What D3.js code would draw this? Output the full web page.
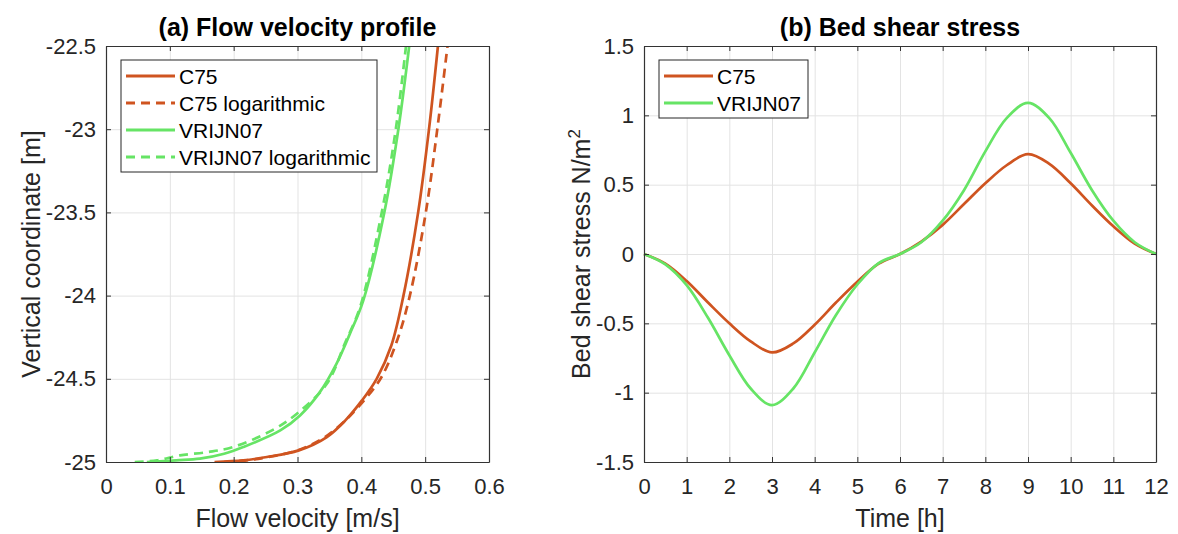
<!DOCTYPE html>
<html>
<head>
<meta charset="utf-8">
<script src="https://cdn.jsdelivr.net/npm/d3@7"></script>
<style>
  body { margin: 0; background: #fff; }
  svg { font-family: "Liberation Sans", Arial, sans-serif; }
</style>
</head>
<body>
<svg width="1178" height="534"></svg>
<script>
const width = 1178;
const height = 534;

const svg = d3.select('svg');

// (a) flow velocity profile: vertical coordinate [m] vs velocity [m/s]
const c75Z    = [-25.00, -24.99, -24.97, -24.93, -24.85, -24.75, -24.63, -24.50, -24.30, -24.00, -23.50, -23.00, -22.50];
const c75U    = [0.170, 0.215, 0.252, 0.302, 0.346, 0.375, 0.401, 0.424, 0.447, 0.466, 0.489, 0.506, 0.520];
const c75LogZ = [-25.00, -24.99, -24.97, -24.93, -24.85, -24.75, -24.67, -24.50, -24.27, -24.00, -23.50, -23.00, -22.50];
const c75LogU = [0.185, 0.220, 0.255, 0.300, 0.343, 0.375, 0.395, 0.430, 0.456, 0.476, 0.501, 0.519, 0.535];
const vrijnZ    = [-25.00, -24.99, -24.98, -24.95, -24.91, -24.81, -24.72, -24.58, -24.41, -24.23, -24.03, -23.50, -23.00, -22.50];
const vrijnU    = [0.064, 0.110, 0.147, 0.185, 0.215, 0.273, 0.304, 0.335, 0.361, 0.382, 0.403, 0.436, 0.458, 0.475];
const vrijnLogZ = [-25.00, -24.99, -24.96, -24.94, -24.91, -24.81, -24.71, -24.53, -24.28, -24.07, -23.50, -23.00, -22.50];
const vrijnLogU = [0.045, 0.080, 0.116, 0.160, 0.199, 0.260, 0.299, 0.346, 0.375, 0.398, 0.432, 0.454, 0.470];

// (b) bed shear stress [N/m2] over time [h]
const timeH    = [0, 0.5, 1, 1.5, 2, 2.5, 3, 3.5, 4, 4.5, 5, 5.5, 6, 6.5, 7, 7.5, 8, 8.5, 9, 9.5, 10, 10.5, 11, 11.5, 12];
const c75Tau   = [0, -0.07, -0.195, -0.35, -0.50, -0.63, -0.71, -0.645, -0.51, -0.35, -0.20, -0.07, 0, 0.09, 0.21, 0.36, 0.51, 0.64, 0.72, 0.65, 0.51, 0.35, 0.20, 0.075, 0];
const vrijnTau = [0, -0.075, -0.225, -0.46, -0.73, -0.97, -1.09, -0.97, -0.71, -0.44, -0.22, -0.065, 0, 0.085, 0.24, 0.46, 0.74, 0.98, 1.09, 0.98, 0.73, 0.46, 0.24, 0.085, 0];

const xTicksA = [0, 0.1, 0.2, 0.3, 0.4, 0.5, 0.6];
const yTicksA = [-25, -24.5, -24, -23.5, -23, -22.5];
const xTicksB = [0, 1, 2, 3, 4, 5, 6, 7, 8, 9, 10, 11, 12];
const yTicksB = [-1.5, -1, -0.5, 0, 0.5, 1, 1.5];

const red = '#cf5420';
const green = '#66e465';
const axisColor = '#333';
const fmt = d => String(+d.toFixed(2));

const drawGrid = (g, xScale, yScale, xTicks, yTicks, w, h) => {
    g.append('g').attr('transform', 'translate(0,' + h + ')')
        .call(d3.axisBottom(xScale).tickValues(xTicks).tickSize(-h).tickFormat(''))
        .call(a => a.select('.domain').remove())
        .selectAll('line').attr('stroke', '#e3e3e3');
    g.append('g')
        .call(d3.axisLeft(yScale).tickValues(yTicks).tickSize(-w).tickFormat(''))
        .call(a => a.select('.domain').remove())
        .selectAll('line').attr('stroke', '#e3e3e3');
};

const drawAxes = (g, xScale, yScale, xTicks, yTicks, w, h) => {
    const style = a => {
        a.select('.domain').attr('stroke', axisColor).attr('stroke-width', 1.2);
        a.selectAll('.tick line').attr('stroke', axisColor);
        a.selectAll('.tick text').attr('fill', '#262626').attr('font-size', 22).attr('font-family', null);
    };
    g.append('g').attr('transform', 'translate(0,' + h + ')')
        .call(d3.axisBottom(xScale).tickValues(xTicks).tickSize(-5).tickSizeOuter(0).tickPadding(16).tickFormat(fmt))
        .call(style);
    g.append('g')
        .call(d3.axisTop(xScale).tickValues(xTicks).tickSize(-5).tickSizeOuter(0).tickFormat(''))
        .call(style);
    g.append('g')
        .call(d3.axisLeft(yScale).tickValues(yTicks).tickSize(-5).tickSizeOuter(0).tickPadding(10).tickFormat(fmt))
        .call(style);
    g.append('g').attr('transform', 'translate(' + w + ',0)')
        .call(d3.axisRight(yScale).tickValues(yTicks).tickSize(-5).tickSizeOuter(0).tickFormat(''))
        .call(style);
};

const drawLegend = (g, x, y, entries, boxW) => {
    const rowH = 27;
    const lg = g.append('g').attr('transform', 'translate(' + x + ',' + y + ')');
    lg.append('rect')
        .attr('width', boxW)
        .attr('height', entries.length * rowH + 4)
        .attr('fill', '#fff')
        .attr('stroke', '#262626')
        .attr('stroke-width', 1);
    entries.forEach((e, i) => {
        const cy = 16 + i * rowH;
        lg.append('line')
            .attr('x1', 5).attr('x2', 54)
            .attr('y1', cy).attr('y2', cy)
            .attr('stroke', e.color)
            .attr('stroke-width', 3)
            .attr('stroke-dasharray', e.dash ? '9,6' : null);
        lg.append('text')
            .text(e.name)
            .attr('x', 58)
            .attr('y', cy)
            .attr('dy', '0.36em')
            .attr('font-size', 21)
            .attr('fill', '#000');
    });
};

// ---------- panel (a) ----------
const renderA = () => {
    const left = 106, top = 46, w = 383, h = 416;
    const g = svg.append('g').attr('transform', 'translate(' + left + ',' + top + ')');

    const xScale = d3.scaleLinear().domain([0, 0.6]).range([0, w]);
    const yScale = d3.scaleLinear().domain([-25, -22.5]).range([h, 0]);

    drawGrid(g, xScale, yScale, xTicksA, yTicksA, w, h);

    g.append('clipPath').attr('id', 'clipA')
        .append('rect').attr('width', w).attr('height', h);

    const line = d3.line()
        .x(d => xScale(d[0]))
        .y(d => yScale(d[1]))
        .curve(d3.curveCatmullRom.alpha(0.5));

    const series = [
        { u: c75U, z: c75Z, color: red, dash: false },
        { u: c75LogU, z: c75LogZ, color: red, dash: true },
        { u: vrijnU, z: vrijnZ, color: green, dash: false },
        { u: vrijnLogU, z: vrijnLogZ, color: green, dash: true }
    ];
    series.forEach(s => {
        g.append('path')
            .datum(s.u.map((u, i) => [u, s.z[i]]))
            .attr('d', line)
            .attr('fill', 'none')
            .attr('stroke', s.color)
            .attr('stroke-width', 2.7)
            .attr('stroke-dasharray', s.dash ? '9,6' : null)
            .attr('clip-path', 'url(#clipA)');
    });

    drawAxes(g, xScale, yScale, xTicksA, yTicksA, w, h);

    g.append('text')
        .text('(a) Flow velocity profile')
        .attr('x', w / 2).attr('y', -10)
        .attr('text-anchor', 'middle')
        .attr('font-size', 25)
        .attr('font-weight', 'bold')
        .attr('fill', '#000');

    g.append('text')
        .text('Flow velocity [m/s]')
        .attr('x', w / 2).attr('y', h + 65)
        .attr('text-anchor', 'middle')
        .attr('font-size', 25)
        .attr('fill', '#262626');

    g.append('text')
        .text('Vertical coordinate [m]')
        .attr('transform', 'translate(-66,' + (h / 2) + ') rotate(-90)')
        .attr('text-anchor', 'middle')
        .attr('font-size', 25)
        .attr('fill', '#262626');

    drawLegend(g, 15, 14, [
        { name: 'C75', color: red, dash: false },
        { name: 'C75 logarithmic', color: red, dash: true },
        { name: 'VRIJN07', color: green, dash: false },
        { name: 'VRIJN07 logarithmic', color: green, dash: true }
    ], 256);
};

// ---------- panel (b) ----------
const renderB = () => {
    const left = 644, top = 46, w = 512, h = 416;
    const g = svg.append('g').attr('transform', 'translate(' + left + ',' + top + ')');

    const xScale = d3.scaleLinear().domain([0, 12]).range([0, w]);
    const yScale = d3.scaleLinear().domain([-1.5, 1.5]).range([h, 0]);

    drawGrid(g, xScale, yScale, xTicksB, yTicksB, w, h);

    const line = d3.line()
        .x(d => xScale(d[0]))
        .y(d => yScale(d[1]))
        .curve(d3.curveCatmullRom.alpha(0.5));

    [{ v: c75Tau, color: red }, { v: vrijnTau, color: green }].forEach(s => {
        g.append('path')
            .datum(timeH.map((t, i) => [t, s.v[i]]))
            .attr('d', line)
            .attr('fill', 'none')
            .attr('stroke', s.color)
            .attr('stroke-width', 2.7);
    });

    drawAxes(g, xScale, yScale, xTicksB, yTicksB, w, h);

    g.append('text')
        .text('(b) Bed shear stress')
        .attr('x', w / 2).attr('y', -10)
        .attr('text-anchor', 'middle')
        .attr('font-size', 25)
        .attr('font-weight', 'bold')
        .attr('fill', '#000');

    g.append('text')
        .text('Time [h]')
        .attr('x', w / 2).attr('y', h + 65)
        .attr('text-anchor', 'middle')
        .attr('font-size', 25)
        .attr('fill', '#262626');

    const yl = g.append('text')
        .attr('transform', 'translate(-54,' + (h / 2) + ') rotate(-90)')
        .attr('text-anchor', 'middle')
        .attr('font-size', 25)
        .attr('fill', '#262626');
    yl.append('tspan').text('Bed shear stress N/m');
    yl.append('tspan').text('2').attr('font-size', 17).attr('dy', -10);

    drawLegend(g, 15, 14, [
        { name: 'C75', color: red, dash: false },
        { name: 'VRIJN07', color: green, dash: false }
    ], 149);
};

renderA();
renderB();
</script>
</body>
</html>
